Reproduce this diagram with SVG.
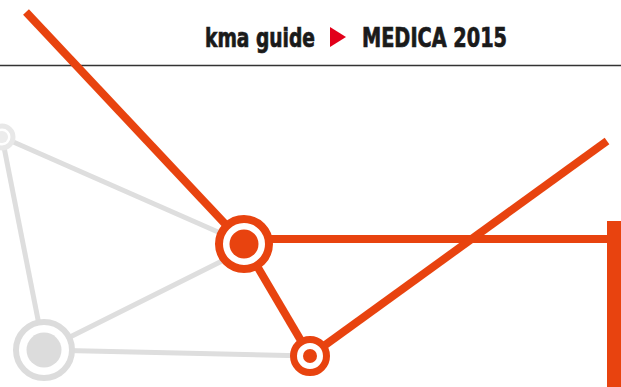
<svg xmlns="http://www.w3.org/2000/svg" width="621" height="387" viewBox="0 0 621 387">
<style>
.hdr{font-family:"Liberation Sans Narrow","DejaVu Sans Condensed","Liberation Sans",sans-serif;font-weight:bold;font-size:26px;fill:#1a1a1a;stroke:#1a1a1a;stroke-width:0.7}
.gl{stroke:#dedede;stroke-width:5;fill:none}
.ol{stroke:#e8430f;stroke-width:8;fill:none}
.gring{fill:#fff;stroke:#dcdcdc;stroke-width:6}
.gdot{fill:#dcdcdc}
.oring{fill:#fff;stroke:#e8430f}
.odot{fill:#e8430f}
</style>
<rect width="621" height="387" fill="#fff"/>
<g id="header">
<line x1="0" y1="65.5" x2="621" y2="65.5" stroke="#333" stroke-width="1.6"/>
<text class="hdr" x="205" y="47" textLength="110" lengthAdjust="spacingAndGlyphs">kma guide</text>
<polygon points="330,27 346,37 330,47" fill="#e2001a"/>
<text class="hdr" x="362" y="47" textLength="145" lengthAdjust="spacingAndGlyphs">MEDICA 2015</text>
</g>
<g id="connectors">
<line class="gl" x1="2" y1="137" x2="243" y2="243" stroke="#e6e6e6"/>
<line class="gl" x1="2" y1="137" x2="44" y2="350"/>
<line class="gl" x1="44" y1="350" x2="226" y2="259"/>
<line class="gl" x1="44" y1="350" x2="310" y2="356"/>
<line class="ol" x1="26" y1="12" x2="244" y2="244"/>
<line class="ol" x1="244" y1="239" x2="610" y2="239"/>
<line class="ol" x1="244" y1="244" x2="310" y2="356"/>
<line class="ol" x1="310" y1="356" x2="607" y2="141"/>
</g>
<g id="node-topleft">
<circle cx="2" cy="137" r="11" fill="#fff" stroke="#e8e8e8" stroke-width="5"/>
<circle cx="2" cy="137" r="6" fill="#ececec"/>
</g>
<g id="node-bottomleft">
<circle class="gring" cx="44" cy="350" r="28"/>
<circle class="gdot" cx="44" cy="350" r="17.5"/>
</g>
<g id="node-big">
<circle class="oring" cx="244" cy="244" r="25" stroke-width="8"/>
<circle class="odot" cx="244" cy="244" r="14.5"/>
</g>
<g id="node-small">
<circle class="oring" cx="310" cy="356" r="16.5" stroke-width="7"/>
<circle class="odot" cx="310" cy="356" r="7"/>
</g>
<g id="bar">
<rect x="607" y="221" width="14" height="166" fill="#e8430f"/>
</g>
</svg>
